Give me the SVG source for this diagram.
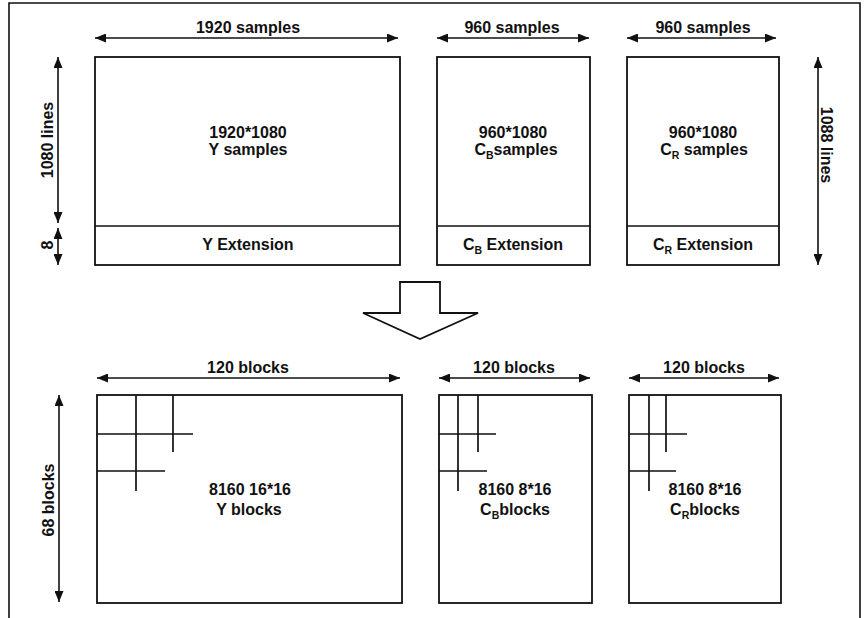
<svg xmlns="http://www.w3.org/2000/svg" width="864" height="618" viewBox="0 0 864 618">
  <defs>
    <marker id="ah" viewBox="0 0 11 9" refX="11" refY="4.5" markerWidth="11" markerHeight="9" markerUnits="userSpaceOnUse" orient="auto-start-reverse">
      <path d="M0,0 L11,4.5 L0,9 z" fill="#111"/>
    </marker>
    <style>
      .box{fill:#fff;stroke:#111;stroke-width:1.8}
      .ln{fill:none;stroke:#111;stroke-width:1.6}
      .grid{fill:none;stroke:#111;stroke-width:1.7}
      .dim{fill:none;stroke:#111;stroke-width:1.6;marker-start:url(#ah);marker-end:url(#ah)}
      text{font-family:"Liberation Sans",Arial,sans-serif;font-weight:bold;font-size:16px;fill:#111;text-anchor:middle}
      .sub{font-size:10.5px}
    </style>
  </defs>
  <rect width="864" height="618" fill="#fff"/>
  <path class="ln" d="M9,618 V3 H860 V618"/>

  <g id="connectors">
    <line class="dim" x1="95" y1="38" x2="398" y2="38"/>
    <line class="dim" x1="437" y1="38" x2="589" y2="38"/>
    <line class="dim" x1="627" y1="38" x2="776" y2="38"/>
    <line class="dim" x1="58" y1="57" x2="58" y2="223"/>
    <line class="dim" x1="58" y1="228" x2="58" y2="265"/>
    <line class="dim" x1="818" y1="57" x2="818" y2="265"/>
    <line class="dim" x1="97" y1="378" x2="400" y2="378"/>
    <line class="dim" x1="439" y1="378" x2="590" y2="378"/>
    <line class="dim" x1="629" y1="378" x2="779" y2="378"/>
    <line class="dim" x1="59" y1="395" x2="59" y2="602"/>
    <path id="bigArrow" d="M400,282 H440 V313 H478 L420,339 L363,313 H400 Z" fill="#fff" stroke="#111" stroke-width="1.8" stroke-linejoin="miter"/>
  </g>

  <g id="labels">
    <text x="248" y="33">1920 samples</text>
    <text x="512" y="33">960 samples</text>
    <text x="703" y="33">960 samples</text>
    <text transform="translate(53,140) rotate(-90)">1080 lines</text>
    <text transform="translate(53,245) rotate(-90)">8</text>
    <text transform="translate(821,145) rotate(90)">1088 lines</text>
    <text x="248" y="373">120 blocks</text>
    <text x="514" y="373">120 blocks</text>
    <text x="704" y="373">120 blocks</text>
    <text transform="translate(54,500) rotate(-90)">68 blocks</text>
  </g>

  <g id="y-samples">
    <rect class="box" x="95" y="57" width="305" height="208"/>
    <line class="ln" x1="95" y1="226" x2="400" y2="226"/>
    <text x="248" y="138">1920*1080</text>
    <text x="248" y="155">Y samples</text>
    <text x="248" y="250">Y Extension</text>
  </g>

  <g id="cb-samples">
    <rect class="box" x="437" y="57" width="153" height="208"/>
    <line class="ln" x1="437" y1="226" x2="590" y2="226"/>
    <text x="513" y="138">960*1080</text>
    <text x="516" y="155">C<tspan class="sub" dy="4">B</tspan><tspan dy="-4">samples</tspan></text>
    <text x="513" y="250">C<tspan class="sub" dy="4">B</tspan><tspan dy="-4"> Extension</tspan></text>
  </g>

  <g id="cr-samples">
    <rect class="box" x="627" y="57" width="152" height="208"/>
    <line class="ln" x1="627" y1="226" x2="779" y2="226"/>
    <text x="703" y="138">960*1080</text>
    <text x="704" y="155">C<tspan class="sub" dy="4">R</tspan><tspan dy="-4"> samples</tspan></text>
    <text x="703" y="250">C<tspan class="sub" dy="4">R</tspan><tspan dy="-4"> Extension</tspan></text>
  </g>

  <g id="y-blocks">
    <rect class="box" x="97" y="395" width="305" height="208"/>
    <path class="grid" d="M136,395 V491 M173,395 V452 M97,434 H193 M97,471 H165"/>
    <text x="250" y="495">8160 16*16</text>
    <text x="249" y="515">Y blocks</text>
  </g>

  <g id="cb-blocks">
    <rect class="box" x="439" y="395" width="153" height="208"/>
    <path class="grid" d="M458,395 V491 M478,395 V452 M439,434 H496 M439,471 H487"/>
    <text x="515" y="495">8160 8*16</text>
    <text x="515" y="515">C<tspan class="sub" dy="4">B</tspan><tspan dy="-4">blocks</tspan></text>
  </g>

  <g id="cr-blocks">
    <rect class="box" x="629" y="395" width="152" height="208"/>
    <path class="grid" d="M649,395 V491 M666,395 V452 M629,434 H687 M629,471 H676"/>
    <text x="705" y="495">8160 8*16</text>
    <text x="705" y="515">C<tspan class="sub" dy="4">R</tspan><tspan dy="-4">blocks</tspan></text>
  </g>
</svg>
